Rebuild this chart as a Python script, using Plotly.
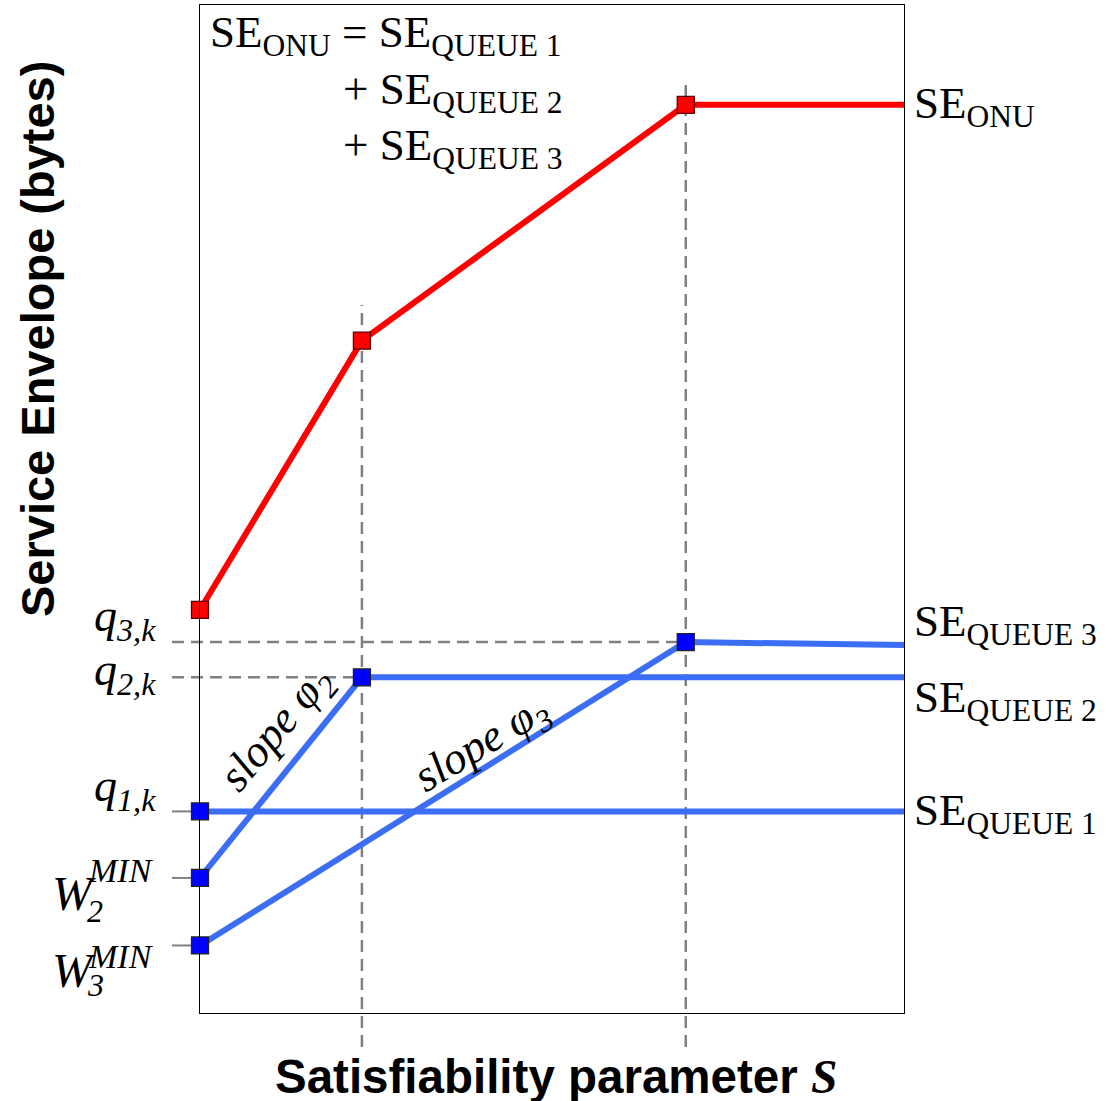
import plotly.graph_objects as go

# ---------------- data ----------------
S_ONU = [0, 2.3, 6.9, 10]
SE_ONU = [40.0, 66.7, 90.1, 90.1]

S_Q1 = [0, 10]
SE_Q1 = [20.0, 20.0]

S_Q2 = [0, 2.3, 10]
SE_Q2 = [13.4, 33.3, 33.3]

S_Q3 = [0, 6.9, 10]
SE_Q3 = [6.7, 36.8, 36.5]

S1, S2 = 2.3, 6.9
X_MAX, Y_MAX = 10, 100

# ---------------- styles ----------------
RED = "#ff0000"
BLUE_LINE = "#3b6ef5"
BLUE_MARK = "#0000ff"
GRAY = "#808080"
SERIF = "Liberation Serif, Times New Roman, serif"
SANS = "Liberation Sans, Arial, sans-serif"

# plot area in pixels (layout only)
L, R, T, B = 200, 904, 5, 1013
W_FIG, H_FIG = 1109, 1101


def px(xp):
    return (xp - L) / (R - L)


def py(yp):
    return (B - yp) / (B - T)


fig = go.Figure()

# lines
fig.add_trace(go.Scatter(x=S_ONU, y=SE_ONU, mode="lines",
                         line=dict(color=RED, width=6), hoverinfo="skip"))
for xs, ys in [(S_Q1, SE_Q1), (S_Q2, SE_Q2), (S_Q3, SE_Q3)]:
    fig.add_trace(go.Scatter(x=xs, y=ys, mode="lines",
                             line=dict(color=BLUE_LINE, width=6), hoverinfo="skip"))

# markers
fig.add_trace(go.Scatter(x=S_ONU[:3], y=SE_ONU[:3], mode="markers", cliponaxis=False,
                         marker=dict(symbol="square", size=17, color=RED,
                                     line=dict(color="#5a0000", width=1.3))))
bx = [S_Q1[0], S_Q2[0], S_Q2[1], S_Q3[0], S_Q3[1]]
by = [SE_Q1[0], SE_Q2[0], SE_Q2[1], SE_Q3[0], SE_Q3[1]]
fig.add_trace(go.Scatter(x=bx, y=by, mode="markers", cliponaxis=False,
                         marker=dict(symbol="square", size=17, color=BLUE_MARK,
                                     line=dict(color="#222222", width=1.3))))

shapes = []
DASH = "12px,7px"
GW = 2.5
# vertical guides
shapes.append(dict(type="line", xref="x", yref="paper", x0=S1, x1=S1,
                   y0=py(1047), y1=py(305), line=dict(color=GRAY, width=GW, dash=DASH), layer="below"))
shapes.append(dict(type="line", xref="x", yref="paper", x0=S2, x1=S2,
                   y0=py(1047), y1=py(80), line=dict(color=GRAY, width=GW, dash=DASH), layer="below"))
# horizontal guides
shapes.append(dict(type="line", xref="paper", yref="y", x0=px(172), x1=S2 / X_MAX,
                   y0=SE_Q3[1], y1=SE_Q3[1], line=dict(color=GRAY, width=GW, dash=DASH), layer="below"))
shapes.append(dict(type="line", xref="paper", yref="y", x0=px(172), x1=S1 / X_MAX,
                   y0=SE_Q2[1], y1=SE_Q2[1], line=dict(color=GRAY, width=GW, dash=DASH), layer="below"))
for yv in [SE_Q1[0], SE_Q2[0], SE_Q3[0]]:
    shapes.append(dict(type="line", xref="paper", yref="y", x0=px(172), x1=0,
                       y0=yv, y1=yv, line=dict(color=GRAY, width=2), layer="below"))

ann = []


def a(text, x, y, size, xanchor="center", yanchor="middle", xref="paper", yref="paper",
      yshift=0, angle=0, family=SERIF):
    ann.append(dict(text=text, x=x, y=y, xref=xref, yref=yref, xanchor=xanchor,
                    yanchor=yanchor, yshift=yshift, textangle=angle, showarrow=False,
                    font=dict(family=family, size=size, color="black")))


# axis titles
a("<b>Service Envelope (bytes)</b>", px(37), py(339), 47, angle=-90, family=SANS)
a("<b>Satisfiability parameter </b><span style='font-family:Liberation Serif'><b><i>S</i></b></span>",
  px(556), py(1076), 47.5, family=SANS)

# equation
a("SE<sub>ONU</sub> = SE<sub>QUEUE 1</sub>", px(208), py(35), 45, xanchor="left")
a("+ SE<sub>QUEUE 2</sub>", px(341), py(92), 45, xanchor="left")
a("+ SE<sub>QUEUE 3</sub>", px(341), py(148), 45, xanchor="left")

# right labels
xr = px(912)
a("SE<sub>ONU</sub>", xr, SE_ONU[-1], 45, xanchor="left", yref="y", yshift=-1)
a("SE<sub>QUEUE 3</sub>", xr, SE_Q3[-1], 45, xanchor="left", yref="y", yshift=21)
a("SE<sub>QUEUE 2</sub>", xr, SE_Q2[-1], 45, xanchor="left", yref="y", yshift=-23)
a("SE<sub>QUEUE 1</sub>", xr, SE_Q1[-1], 45, xanchor="left", yref="y", yshift=-2)

# left labels
xl = px(158)
a("<i>q<sub>3,k</sub></i>", xl, SE_Q3[1], 46, xanchor="right", yref="y", yshift=23)
a("<i>q<sub>2,k</sub></i>", xl, SE_Q2[1], 46, xanchor="right", yref="y", yshift=4)
a("<i>q<sub>1,k</sub></i>", xl, SE_Q1[0], 46, xanchor="right", yref="y", yshift=22)

# W labels (stacked sub/sup)
a("<i>W</i>", px(50), SE_Q2[0], 48, xanchor="left", yref="y", yshift=-16)
a("<i>MIN</i>", px(86), SE_Q2[0], 34, xanchor="left", yref="y", yshift=7)
a("<i>2</i>", px(85), SE_Q2[0], 32, xanchor="left", yref="y", yshift=-33)
a("<i>W</i>", px(50), SE_Q3[0], 48, xanchor="left", yref="y", yshift=-25)
a("<i>MIN</i>", px(86), SE_Q3[0], 34, xanchor="left", yref="y", yshift=-11)
a("<i>3</i>", px(85), SE_Q3[0], 32, xanchor="left", yref="y", yshift=-40)

# slope labels
a("<i>slope \u03c6<sub>2</sub></i>", px(277), py(730), 45, angle=-50)
a("<i>slope \u03c6<sub>3</sub></i>", px(482), py(745), 45, angle=-31)

axis_common = dict(showgrid=False, zeroline=False, showticklabels=False, ticks="",
                   showline=True, linecolor="black", linewidth=1, mirror=True)

fig.update_layout(
    width=W_FIG, height=H_FIG,
    margin=dict(l=L, r=W_FIG - R, t=T, b=H_FIG - B),
    paper_bgcolor="white", plot_bgcolor="white",
    showlegend=False,
    xaxis=dict(range=[0, X_MAX], **axis_common),
    yaxis=dict(range=[0, Y_MAX], **axis_common),
    shapes=shapes, annotations=ann,
)

fig.write_html("out.html", config={"displayModeBar": False},
               post_script="document.body.style.margin='0';")
